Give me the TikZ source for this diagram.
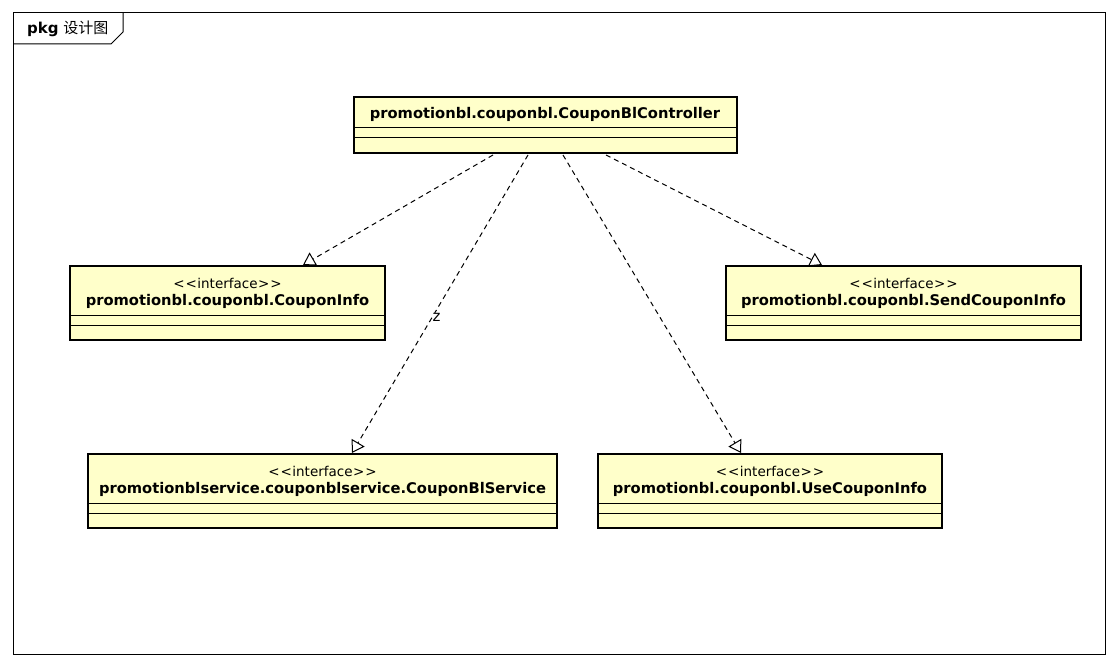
\documentclass[tikz,border=0pt]{standalone}
\usepackage{fontspec}
\setmainfont{DejaVu Sans}
\newfontfamily\cjk{Noto Sans CJK SC}
\usetikzlibrary{arrows.meta,calc}
\definecolor{clsfill}{RGB}{255,255,202}
\newcommand{\stereo}{<\kern1pt<\kern0.5pt interface\kern0.5pt>\kern1pt>}
\tikzset{
  cls/.style={draw=black, line width=2.8pt, fill=clsfill, rectangle, anchor=north west, inner sep=0pt, outer sep=0pt},
  sep/.style={draw=black, line width=0.9pt},
  nm/.style={font=\fontsize{14.7}{16}\selectfont\bfseries, inner sep=0pt},
  st/.style={font=\fontsize{13.5}{15}\selectfont, inner sep=0pt},
  real/.style={draw=black, line width=1pt, dash pattern=on 5pt off 4pt, -{Triangle[open, length=12pt, width=15pt, line width=1pt]}},
}
\begin{document}
\begin{tikzpicture}[x=1pt,y=-1pt]
\useasboundingbox (0,0) rectangle (1118,666);
\fill[white] (0,0) rectangle (1118,666);
% frame
\draw[line width=1pt] (13,13) rectangle (1105,654);
\draw[line width=1pt] (13,44) -- (111,44) -- (123,32) -- (123,13);
\node[anchor=west, inner sep=0pt] (pkg) at (27,29) {\fontsize{15}{16}\selectfont\textbf{pkg} \cjk 设计图};

% controller
\node[cls, minimum width=383, minimum height=56] (ctrl) at (354,97) {};
\node[nm] (ctrlname) at (545,114) {promotionbl.couponbl.CouponBlController};
\draw[sep] (354,127) -- (737,127);
\draw[sep] (354,137.5) -- (737,137.5);

% CouponInfo
\node[cls, minimum width=315, minimum height=74] (ci) at (70,266) {};
\node[st] (cist) at (227.5,283) {\stereo};
\node[nm] (ciname) at (227.5,301) {promotionbl.couponbl.CouponInfo};
\draw[sep] (70,315.5) -- (385,315.5);
\draw[sep] (70,325.5) -- (385,325.5);

% SendCouponInfo
\node[cls, minimum width=355, minimum height=74] (sci) at (726,266) {};
\node[st] (scist) at (903.5,283) {\stereo};
\node[nm] (sciname) at (903.5,301) {promotionbl.couponbl.SendCouponInfo};
\draw[sep] (726,315.5) -- (1081,315.5);
\draw[sep] (726,325.5) -- (1081,325.5);

% CouponBlService
\node[cls, minimum width=469, minimum height=74] (cbs) at (88,454) {};
\node[st] (cbsst) at (322.5,471) {\stereo};
\node[nm] (cbsname) at (322.5,489) {promotionblservice.couponblservice.CouponBlService};
\draw[sep] (88,503.5) -- (557,503.5);
\draw[sep] (88,513.5) -- (557,513.5);

% UseCouponInfo
\node[cls, minimum width=344, minimum height=74] (uci) at (598,454) {};
\node[st] (ucist) at (770,471) {\stereo};
\node[nm] (uciname) at (770,489) {promotionbl.couponbl.UseCouponInfo};
\draw[sep] (598,503.5) -- (942,503.5);
\draw[sep] (598,513.5) -- (942,513.5);

% realizations
\draw[real] ($(ctrl.south west)+(139,2)$) -- ($(ci.north west)+(233,-1)$);
\draw[real] ($(ctrl.south west)+(174,2)$) -- node[pos=0.545, right=0pt, inner sep=0pt, fill=white, font=\fontsize{15}{16}\selectfont] {z} ($(cbs.north west)+(264,-1)$);
\draw[real] ($(ctrl.south west)+(209,2)$) -- ($(uci.north west)+(143,-1)$);
\draw[real] ($(ctrl.south west)+(252,2)$) -- ($(sci.north west)+(96,-1)$);
\end{tikzpicture}
\end{document}
